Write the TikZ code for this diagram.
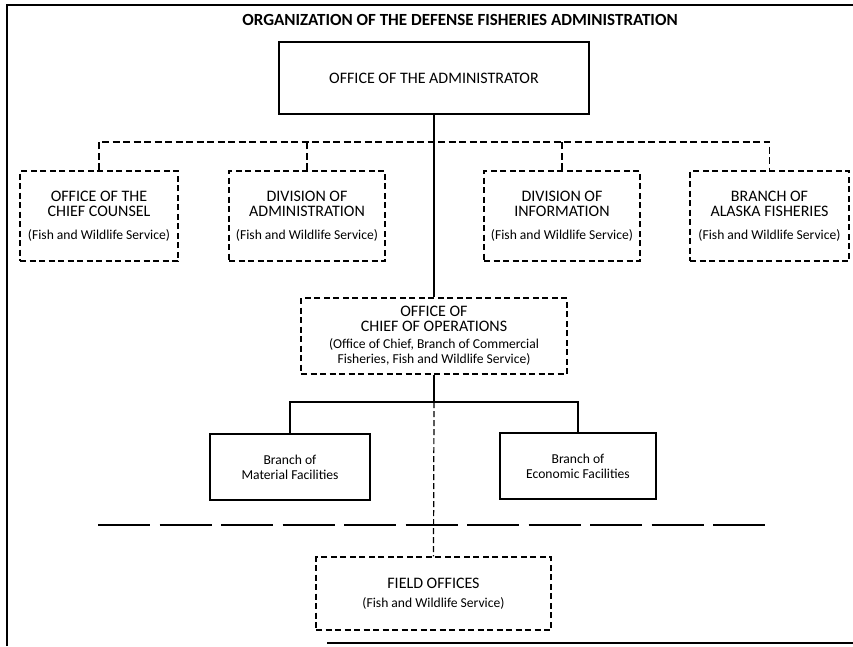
\documentclass[tikz,border=0pt]{standalone}
\usepackage{fontspec}
\setmainfont{Carlito}
\usetikzlibrary{positioning}

\newcommand{\capsz}{\fontsize{16}{15}\selectfont}
\newcommand{\smallsz}{\fontsize{13.6}{15}\selectfont}
\newcommand{\fws}{\smallsz (Fish and Wildlife Service)}

\begin{document}
\begin{tikzpicture}[x=1pt, y=-1pt, line cap=butt, line join=miter,
	solidbox/.style={draw, line width=1.6pt, align=center, inner sep=0pt},
	dashbox/.style={draw, line width=1.3pt, dash pattern=on 6pt off 3.5pt, align=center, inner sep=0pt},
	trunk/.style={line width=2.2pt},
	busline/.style={line width=1.8pt, dash pattern=on 7pt off 3.5pt},
	thindash/.style={line width=1.2pt, dash pattern=on 6pt off 3pt},
	limit/.style={line width=1.6pt, dash pattern=on 52pt off 9.5pt}]
	
	\useasboundingbox (0,0) rectangle (853,646);
	
	% frame of the page
	\draw[line width=1.6pt] (7,646) -- (7,5) -- (853,5);
	\draw[line width=1.6pt] (327,643) -- (853,643);
	
	% title
	\node[font=\fontsize{17}{18}\selectfont\bfseries] (title) at (460,20) {ORGANIZATION OF THE DEFENSE FISHERIES ADMINISTRATION};
	
	% top office
	\node[solidbox, minimum width=310pt, minimum height=72pt, font=\capsz] (admin) at (434,78) {OFFICE OF THE ADMINISTRATOR};
	
	% staff offices (dashed)
	\node[dashbox, minimum width=158pt, minimum height=90pt, font=\capsz] (counsel) at (99,216) {OFFICE OF THE\\CHIEF COUNSEL\\[8pt]\fws};
	\node[dashbox, minimum width=156pt, minimum height=90pt, font=\capsz] (divadm) at (307,216) {DIVISION OF\\ADMINISTRATION\\[8pt]\fws};
	\node[dashbox, minimum width=156pt, minimum height=90pt, font=\capsz] (info) at (562,216) {DIVISION OF\\INFORMATION\\[8pt]\fws};
	\node[dashbox, minimum width=159pt, minimum height=90pt, font=\capsz] (alaska) at (769.5,216) {BRANCH OF\\ALASKA FISHERIES\\[8pt]\fws};
	
	% operations
	\node[dashbox, minimum width=266pt, minimum height=76pt, font=\capsz] (ops) at (434,336) {OFFICE OF\\CHIEF OF OPERATIONS\\[2pt]\smallsz (Office of Chief, Branch of Commercial\\\smallsz Fisheries, Fish and Wildlife Service)};
	
	% branches
	\node[solidbox, minimum width=160pt, minimum height=66pt, font=\smallsz] (material) at (290,467) {Branch of\\Material Facilities};
	\node[solidbox, minimum width=156pt, minimum height=66pt, font=\smallsz] (economic) at (578,466) {Branch of\\Economic Facilities};
	
	% field
	\node[dashbox, minimum width=235pt, minimum height=73pt, font=\capsz] (field) at (433.5,593.5) {FIELD OFFICES\\[4pt]\fws};
	
	% junction points
	\coordinate (bus) at (434,142);
	\coordinate (fork) at (434,402);
	\coordinate (limL) at (98,525);
	\coordinate (limR) at (767,525);
	
	% dashed staff bus
	\draw[busline] (counsel.north) |- (bus) -| (alaska.north);
	\draw[busline] (divadm.north) -- (divadm.north |- bus);
	\draw[busline] (info.north) -- (info.north |- bus);
	
	% line of command
	\draw[trunk] (admin.south) -- (ops.north);
	\draw[trunk] (ops.south) -- (fork);
	\draw[trunk] (material.north) |- (fork) -| (economic.north);
	
	% field offices
	\draw[thindash] (fork) -- (field.north);
	\draw[limit] (limL) -- (limR);
	
\end{tikzpicture}
\end{document}
